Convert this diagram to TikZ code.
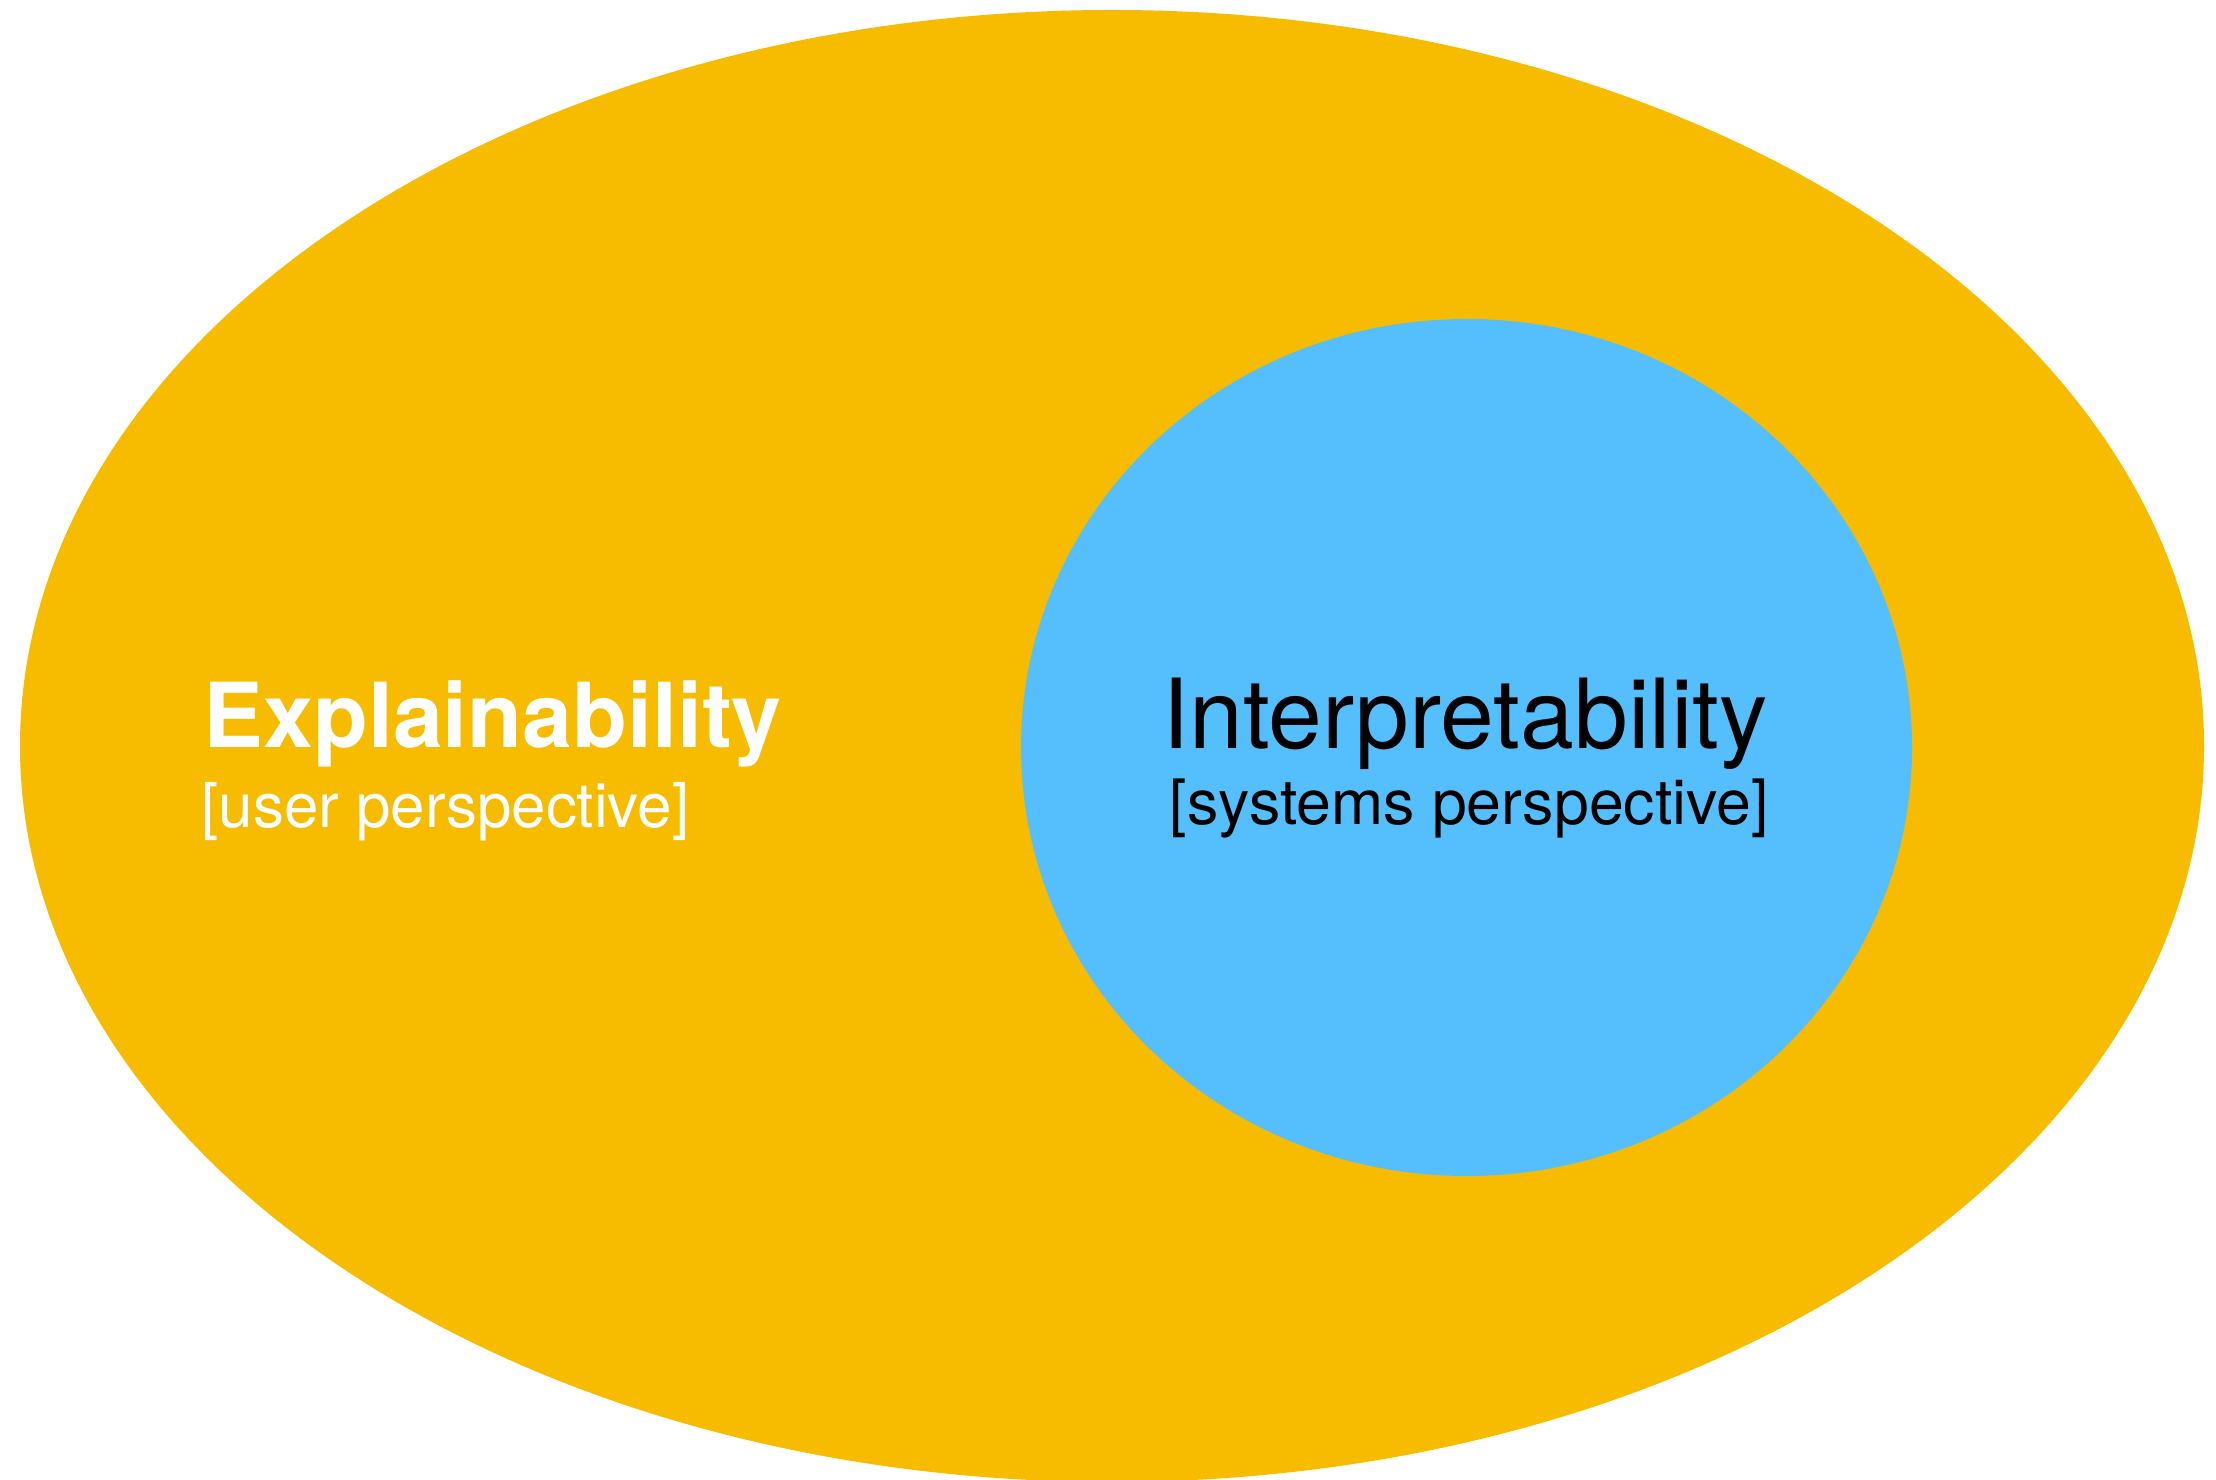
\documentclass[tikz,border=0pt]{standalone}
\usepackage{fontspec}
\setmainfont{TeX Gyre Heros}
\definecolor{xplorange}{HTML}{F7BB00}
\definecolor{intblue}{HTML}{55BFFE}

\begin{document}
\begin{tikzpicture}[x=0.01cm,y=-0.01cm,
 label text/.style={anchor=base west,inner sep=0pt},
 big/.style={font=\fontsize{25.5}{30}\selectfont},
 small/.style={font=\fontsize{17.6}{20}\selectfont}]
 \useasboundingbox (0,0) rectangle (2216,1480);
 \fill[xplorange] (1112,746) ellipse [x radius=1092, y radius=736];
 \fill[intblue] (1466.5,747.5) ellipse [x radius=445.5, y radius=428.5];
 \node[label text,big,white] (xpl) at (203,748) {\bfseries Explainability};
 \node[label text,small,white] (xplsub) at (201,828) {[user perspective]};
 \node[label text,big,black,font=\fontsize{27.5}{30}\selectfont] (int) at (1162,749) {Interpretability};
 \node[label text,small,black,font=\fontsize{17.8}{20}\selectfont] (intsub) at (1169,825) {[systems perspective]};
\end{tikzpicture}
\end{document}
